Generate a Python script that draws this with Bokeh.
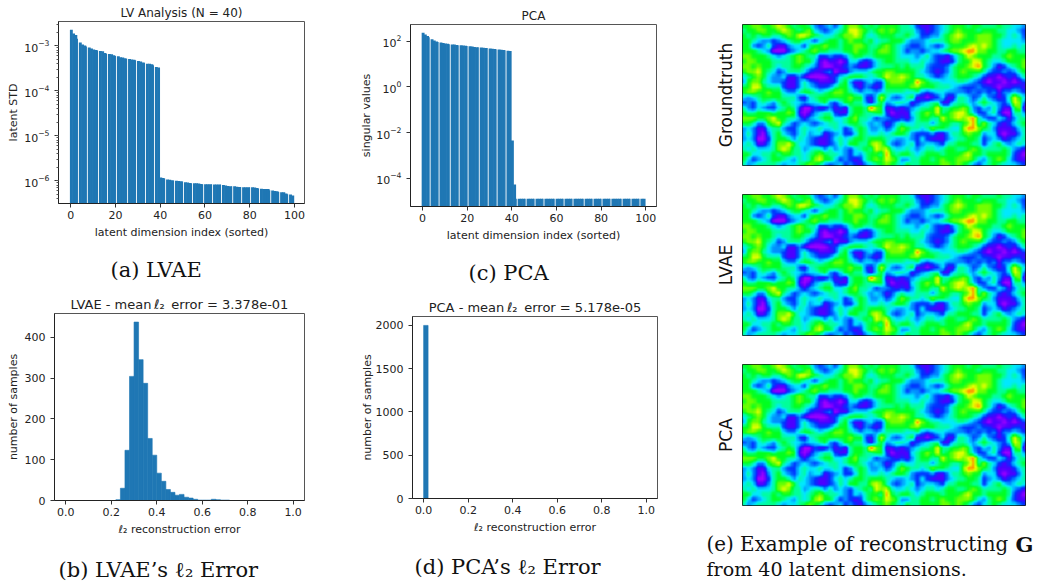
from bokeh.plotting import figure
from bokeh.layouts import row, column
from bokeh.models import (FixedTicker, LogTicker, LogTickFormatter, PrintfTickFormatter, Label,
                          Range1d, LinearColorMapper)
from bokeh.embed import file_html
from bokeh.resources import INLINE
import numpy as np

# ---------- data ----------
lvae_std = [2.3e-3,1.9e-3,1.75e-3,1.45e-3,1.2e-3,1.07e-3,1.02e-3,9.7e-4,9.2e-4,8.8e-4,
            8.3e-4,8.1e-4,7.9e-4,7.7e-4,7.6e-4,7.0e-4,6.7e-4,6.6e-4,6.5e-4,6.2e-4,
            6.0e-4,5.9e-4,5.6e-4,5.5e-4,5.3e-4,5.2e-4,5.1e-4,5.0e-4,4.9e-4,4.8e-4,
            4.6e-4,4.5e-4,4.3e-4,4.2e-4,4.0e-4,4.0e-4,3.9e-4,3.7e-4,3.4e-4,3.3e-4,
            1.18e-6,1.15e-6,1.12e-6,1.06e-6,1.05e-6,1.02e-6,1.01e-6,1.0e-6,9.8e-7,9.7e-7,
            9.6e-7,9.2e-7,9.1e-7,8.9e-7,8.7e-7,8.7e-7,8.7e-7,8.6e-7,8.4e-7,8.3e-7,
            8.3e-7,8.3e-7,8.3e-7,8.3e-7,8.2e-7,8.2e-7,8.2e-7,8.2e-7,8.0e-7,7.8e-7,
            7.6e-7,7.5e-7,7.5e-7,7.5e-7,7.3e-7,7.2e-7,7.2e-7,7.1e-7,7.1e-7,7.1e-7,
            7.1e-7,7.1e-7,7.0e-7,6.9e-7,6.7e-7,6.6e-7,6.5e-7,6.5e-7,6.5e-7,6.1e-7,
            6.0e-7,5.9e-7,5.8e-7,5.6e-7,5.5e-7,5.5e-7,5.2e-7,5.0e-7,4.9e-7,4.7e-7]
pca_sv = [230,190,165,145,120,105,95,90,85,82,78,75,73,71,70,67,66,65,63,62,
          60,59,57,55,54,53,52,51,50,49,47,46,45,44,43,42,40,39,38,37,
          4.5e-3,5.5e-5] + [1.3e-5]*58
lvae_hist = [0]*11 + [2,30,123,304,437,345,287,152,111,67,47,27,20,13,15,8,6,3,1,1,1,3,2] + [1]*2 + [0]*14
pca_hist = [2000] + [0]*49
x_ticks_idx = [0,20,40,60,80,100]
x_ticks_err = [0.0,0.2,0.4,0.6,0.8,1.0]
pca_y_ticks = [1e-4,1e-2,1e0,1e2]
hist_b_ticks = [0,100,200,300,400]
hist_d_ticks = [0,500,1000,1500,2000]

# field levels, one character per cell (0 violet ... 9 orange, a red)
field_rows = [
 "6677667876566532342467765656"+"6665542112345666566555655443",
 "5667766787656743234568876567"+"6765553212345676665666554432",
 "6565665567688765445677875456"+"6655654223356787667776654542",
 "6654332345665424566567665645"+"5666433345556776667776544443",
 "6632352113442566766566776556"+"7654322343235666787876544545",
 "6665430002345676655566766567"+"7654233234456778997766556655",
 "7766654345676552232235665566"+"6654443453221356876665567666",
 "6776665555676641011014421245"+"6655544543211256688654456667",
 "7767665455665431001123211245"+"5565655532223566789653124567",
 "6778654235554211230113444566"+"7766665432123567666532232356",
 "4567643341131000012456665456"+"8778765543234566654211012135",
 "3677543321135321112563113422"+"6777669765544455432101101012",
 "6688655521135432235664213212"+"6666677666555432223221011221",
 "6776676643356654567765434434"+"5555445323443333232323133432",
 "4345666655521456666667662148"+"5323561101241155423532125864",
 "2324543565443445632466553146"+"3455412345511455435654324872",
 "5324322456520021131215665a76"+"1121234556855667632435311670",
 "6556665667610134552115665566"+"2011145676856788642245200553",
 "7776678665531345664456755423"+"3212135665586787895322431355",
 "6653367854234323455456654343"+"1245445553566556795754212456",
 "3431145532245445445423565334"+"2357655457665447997653111245",
 "3531035643245344123422465445"+"4566532223113556766344101135",
 "3430025665354321124545665666"+"5433432421113455665234312345",
 "4541135778644321123546655787"+"5323452344325566655245643454",
 "5454445787553455353432456587"+"8544543455456655676555565321",
 "6644556566554567655432435665"+"9656654566656667866566665210",
 "6423456654354578664232125676"+"8763355665676677764356764211",
 "5345555434456765323423213456"+"7654655666677676532456544432",
]
# ---------- render settings ----------
BLUE = "#1f77b4"
FONT = "DejaVu Sans"
SERIF = "DejaVu Serif"
anchor_colors = ["#a000ff","#4a00ff","#0030ff","#0090ff","#00e8ff","#00ff9a","#00ff20","#70ff00","#e8ff00","#ff9000","#ff0000"]
gap_after = {3,7,12,16,20,25,29,33,37,42,46,50,54,59,63,67,72,76,80,84,89,93,97}

def base(w, h, l, r, t, b, x_range, y_range, **kw):
    p = figure(width=w, height=h, min_border_left=l, min_border_right=r, min_border_top=t,
               min_border_bottom=b, x_range=x_range, y_range=y_range, toolbar_location=None,
               output_backend="svg", background_fill_color="white", border_fill_color="white",
               frame_align=False, **kw)
    p.grid.visible = False
    p.outline_line_color = "#555555"
    p.outline_line_width = 1
    return p

def style(p, title, xlabel, ylabel, xticks, fmt=None, title_size="12px", ylabel_standoff=2):
    p.title.text = title
    p.title.text_font = FONT
    p.title.text_font_size = title_size
    p.title.text_font_style = "normal"
    p.title.text_color = "#222222"
    p.title.align = "center"
    p.title.standoff = 4
    for ax in (p.xaxis[0], p.yaxis[0]):
        ax.major_label_text_font = FONT
        ax.major_label_text_font_size = "11px"
        ax.major_label_text_color = "#222222"
        ax.axis_label_text_font = FONT
        ax.axis_label_text_font_size = "11px"
        ax.axis_label_text_font_style = "normal"
        ax.axis_label_text_color = "#222222"
        ax.axis_line_color = "#222222"
        ax.major_tick_line_color = "#333333"
        ax.minor_tick_line_color = "#555555"
        ax.major_tick_out = 4
        ax.major_tick_in = 0
        ax.minor_tick_out = 2
        ax.minor_tick_in = 0
    p.xaxis[0].major_label_standoff = 3
    p.xaxis[0].axis_label_standoff = 4
    p.yaxis[0].major_label_standoff = 5
    p.yaxis[0].axis_label_standoff = ylabel_standoff
    p.xaxis[0].axis_label = xlabel
    p.yaxis[0].axis_label = ylabel
    p.xaxis[0].ticker = FixedTicker(ticks=xticks)
    if fmt:
        p.xaxis[0].formatter = PrintfTickFormatter(format=fmt)

def caption_fig(w, h, lines):
    """A blank strip that holds caption labels; each line is (text, x, y_from_bottom, size, style)."""
    p = figure(width=w, height=h, min_border=0, x_range=Range1d(0, 1), y_range=Range1d(0, 1),
               x_axis_location=None, y_axis_location=None, toolbar_location=None,
               output_backend="svg", border_fill_color="white", background_fill_color="white",
               frame_align=False)
    p.grid.visible = False
    p.outline_line_color = None
    for text, x, y, size, st in lines:
        p.add_layout(Label(x=x, y=y, x_units="screen", y_units="screen", text=text, text_font=SERIF,
                           text_font_size=size, text_font_style=st, text_color="#111111",
                           text_align="left", text_baseline="alphabetic"))
    return p

def bars(p, values, floor):
    idx = np.arange(len(values))
    left = idx - 0.4
    right = np.array([i + (0.2 if i in gap_after else 0.9) for i in idx])
    p.quad(left=left, right=right, top=values, bottom=[floor]*len(values), fill_color=BLUE, line_color=None)

# (a)
a = base(345, 252, 58, 41, 21, 49, Range1d(-5.5, 104.5), Range1d(3.1e-7, 3.5e-3), y_axis_type="log")
bars(a, lvae_std, 1e-8)
style(a, "LV Analysis (N = 40)", "latent dimension index (sorted)", "latent STD", x_ticks_idx, ylabel_standoff=1)
a.yaxis[0].ticker = LogTicker(num_minor_ticks=10)
a.yaxis[0].formatter = LogTickFormatter()
cap_a = caption_fig(345, 38, [("(a) LVAE", 110, 21, "21px", "normal")])

# (b)
b = base(345, 262, 54, 41, 23, 52, Range1d(-0.05, 1.05), Range1d(0, 458))
bin_left = np.arange(50) * 0.02
b.quad(left=bin_left, right=bin_left + 0.02, top=lvae_hist, bottom=0, fill_color=BLUE, line_color=BLUE, line_width=0.6)
style(b, "LVAE - mean\u2009ℓ₂\u2009 error = 3.378e-01", "ℓ₂ reconstruction error", "number of samples",
      x_ticks_err, "%.1f", title_size="13px", ylabel_standoff=2)
b.yaxis[0].ticker = FixedTicker(ticks=hist_b_ticks)
cap_b = caption_fig(345, 30, [("(b) LVAE’s ℓ₂ Error", 58, 13, "21px", "normal")])

# (c)
c = base(345, 252, 65, 34, 24, 46, Range1d(-5.4, 104.8), Range1d(6e-6, 525), y_axis_type="log")
bars(c, pca_sv, 1e-8)
style(c, "PCA", "latent dimension index (sorted)", "singular values", x_ticks_idx, ylabel_standoff=0)
c.yaxis[0].ticker = FixedTicker(ticks=pca_y_ticks)
c.yaxis[0].formatter = LogTickFormatter()
cap_c = caption_fig(345, 38, [("(c) PCA", 123, 18, "21px", "normal")])

# (d)
d = base(345, 262, 67, 33, 26, 54, Range1d(-0.05, 1.05), Range1d(0, 2103))
d.quad(left=bin_left, right=bin_left + 0.02, top=pca_hist, bottom=0, fill_color=BLUE, line_color=BLUE, line_width=0.6)
style(d, "PCA - mean\u2009ℓ₂\u2009 error = 5.178e-05", "ℓ₂ reconstruction error", "number of samples",
      x_ticks_err, "%.1f", title_size="13px", ylabel_standoff=-1)
d.yaxis[0].ticker = FixedTicker(ticks=hist_d_ticks)
cap_d = caption_fig(345, 30, [("(d) PCA’s ℓ₂ Error", 69, 16, "21px", "normal")])

# (e)
level = {c_: i for i, c_ in enumerate("0123456789a")}
G = np.array([[level[ch] for ch in r] for r in field_rows], dtype=float)[::-1]

# display-only smoothing, like imshow's interpolation; the transcribed cells stay as they are
def smooth(grid, k=4):
    ny, nx = grid.shape
    xs = np.linspace(0, nx - 1, nx * k)
    ys = np.linspace(0, ny - 1, ny * k)
    h = np.array([np.interp(xs, np.arange(nx), r) for r in grid])
    return np.array([np.interp(ys, np.arange(ny), col) for col in h.T]).T

rgb = np.array([[int(s[i:i+2], 16) for i in (1, 3, 5)] for s in anchor_colors], dtype=float)
t = np.linspace(0, len(rgb) - 1, 256)
palette = ["#%02x%02x%02x" % tuple(int(round(np.interp(v, np.arange(len(rgb)), rgb[:, j]))) for j in range(3)) for v in t]
mapper = LinearColorMapper(palette=palette, low=0, high=10)
G_view = smooth(G)

def field(h, t_, b_, name):
    p = base(349, h, 52, 14, t_, b_, Range1d(0, 56), Range1d(0, 28))
    p.image(image=[G_view], x=0, y=0, dw=56, dh=28, color_mapper=mapper)
    p.outline_line_color = "#111111"
    p.xaxis.visible = False
    ax = p.yaxis[0]
    ax.ticker = FixedTicker(ticks=[])
    ax.axis_label = name
    ax.axis_label_text_font = FONT
    ax.axis_label_text_font_size = "17px"
    ax.axis_label_text_font_style = "normal"
    ax.axis_label_text_color = "#111111"
    ax.axis_line_color = None
    ax.major_tick_line_color = None
    ax.minor_tick_line_color = None
    ax.axis_label_standoff = 7
    return p

e1 = field(180, 24, 15, "Groundtruth")
e2 = field(170, 14, 15, "LVAE")
e3 = field(180, 14, 25, "PCA")
cap_e = caption_fig(349, 52, [("(e) Example of reconstructing", 16, 38, "19.9px", "normal"),
                              ("G", 325, 38, "21px", "bold"),
                              ("from 40 latent dimensions.", 16, 13, "19.1px", "normal")])

root = row(column(a, cap_a, b, cap_b, spacing=0), column(c, cap_c, d, cap_d, spacing=0),
           column(e1, e2, e3, cap_e, spacing=0), spacing=0,
           styles={"position": "absolute", "left": "0px", "top": "0px"})
open("out.html", "w").write(file_html(root, INLINE))
